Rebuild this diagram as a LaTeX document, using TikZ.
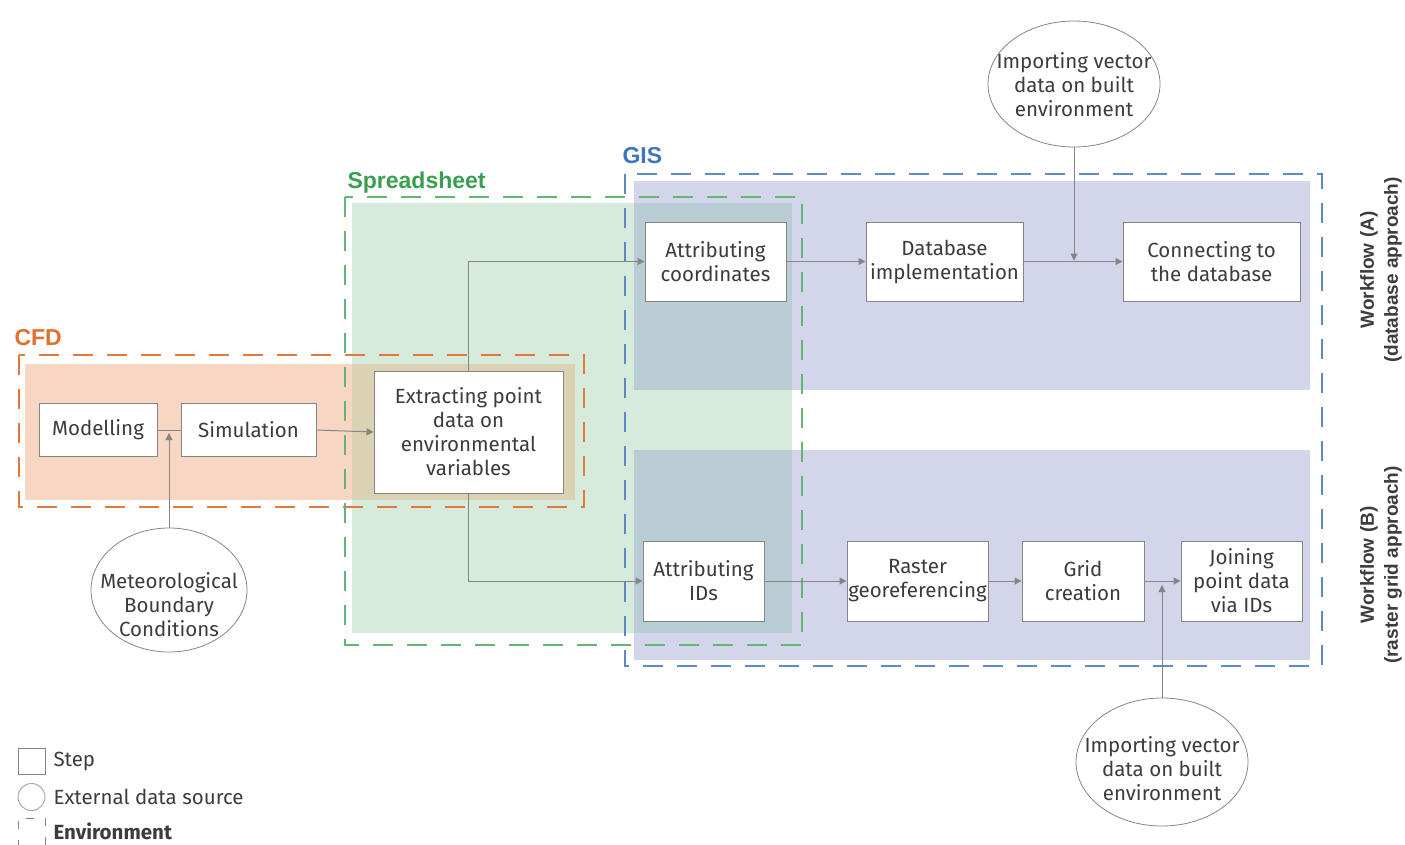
\documentclass[tikz,border=0pt]{standalone}
\usepackage{fontspec}
\setmainfont{Fira Sans}
\newfontfamily\labfont{Liberation Sans}
\usetikzlibrary{arrows.meta,shapes.geometric}
\definecolor{txt}{HTML}{3C3C3C}
\definecolor{lineg}{HTML}{858585}
\definecolor{cfdc}{HTML}{E0712F}
\definecolor{ssc}{HTML}{3A9E50}
\definecolor{gisc}{HTML}{3F74BE}
\definecolor{cfdd}{HTML}{E37A3A}
\definecolor{ssd}{HTML}{62B574}
\definecolor{gisd}{HTML}{6088C8}
\definecolor{greenf}{HTML}{D6EBDC}
\definecolor{bluef}{HTML}{D3D6EA}
\definecolor{orangef}{HTML}{F7D7C3}
\definecolor{tanf}{HTML}{DBD2B3}
\definecolor{tealf}{HTML}{B9CCD3}
\tikzset{
  stepbox/.style={draw=lineg, line width=1pt, fill=white, text=txt, align=center,
    inner sep=0pt, font=\fontsize{20.5}{24}\selectfont},
  srcell/.style={ellipse, draw=lineg, line width=0.8pt, fill=white, inner sep=0pt},
  srctext/.style={text=txt, align=center, inner sep=0pt, font=\fontsize{20.5}{24}\selectfont},
  conn/.style={draw=lineg, line width=1pt},
  arr/.style={conn, -{Triangle[length=7pt,width=7pt]}},
  envbox/.style={line width=1.5pt, dash pattern=on 20pt off 14pt},
  envlab/.style={font=\labfont\bfseries\fontsize{23}{26}\selectfont, anchor=west},
  wflab/.style={font=\labfont\bfseries\fontsize{19}{24}\selectfont, text=txt, align=center, rotate=90},
  legtext/.style={font=\fontsize{20.5}{22}\selectfont, text=txt, anchor=west}
}
\begin{document}
\begin{tikzpicture}[x=1pt,y=-1pt]
\useasboundingbox (0,0) rectangle (1405,844);
% fills
\fill[greenf] (352,203) rectangle (792,633);
\fill[orangef] (25,364) rectangle (575,500);
\fill[bluef] (634,181) rectangle (1310,390);
\fill[bluef] (634,450) rectangle (1310,660);
\fill[tanf] (352,364) rectangle (575,500);
\fill[tealf] (634,203) rectangle (792,390);
\fill[tealf] (634,450) rectangle (792,633);
% environment boxes
\draw[envbox, draw=cfdd] (19,355) rectangle (584,507);
\draw[envbox, draw=ssd] (345,197) rectangle (802,645);
\draw[envbox, draw=gisd] (625,174) rectangle (1322,666);
\node[envlab, text=cfdc] (lcfd) at (11,338) {CFD};
\node[envlab, text=ssc] (lss) at (344,183) {Spreadsheet};
\node[envlab, text=gisc] (lgis) at (619,156) {GIS};
% steps
\node[stepbox, minimum width=118pt, minimum height=53pt] (mod) at (98,430) {Modelling};
\node[stepbox, minimum width=135pt, minimum height=53pt] (sim) at (248.5,430) {Simulation};
\node[stepbox, minimum width=189pt, minimum height=122pt] (ext) at (468.5,432) {Extracting point\\data on\\environmental\\variables};
\node[stepbox, minimum width=141pt, minimum height=79pt] (ac) at (715.5,261.5) {Attributing\\coordinates};
\node[stepbox, minimum width=121pt, minimum height=80pt] (ai) at (703.5,581) {Attributing\\IDs};
\node[stepbox, minimum width=157pt, minimum height=79pt] (db) at (944.5,261.5) {Database\\implementation};
\node[stepbox, minimum width=177pt, minimum height=79pt] (con) at (1211.5,261.5) {Connecting to\\the database};
\node[stepbox, minimum width=141pt, minimum height=80pt] (ras) at (917.5,581) {Raster\\georeferencing};
\node[stepbox, minimum width=122pt, minimum height=80pt] (grid) at (1083,581) {Grid\\creation};
\node[stepbox, minimum width=121pt, minimum height=80pt] (join) at (1241.5,581) {Joining\\point data\\via IDs};
% sources
\node[srcell, minimum width=156pt, minimum height=124pt] (met) at (169,590) {};
\node[srctext] (mett) at (169,605) {Meteorological\\Boundary\\Conditions};
\node[srcell, minimum width=172pt, minimum height=126pt] (imp1) at (1074,84) {};
\node[srctext] (imp1t) at (1074,85) {Importing vector\\data on built\\environment};
\node[srcell, minimum width=172pt, minimum height=128pt] (imp2) at (1162,762) {};
\node[srctext] (imp2t) at (1162,769) {Importing vector\\data on built\\environment};
% connectors
\draw[conn] (mod.east) -- (sim.west);
\draw[arr, shorten >=3pt] (met.north) -- (met.north |- mod.east);
\draw[arr] (sim.east) -- (ext.west);
\draw[arr] (ext.north) |- (ac.west);
\draw[arr] (ext.south) |- (ai.west);
\draw[arr] (ac.east) -- (db.west);
\draw[arr] (db.east) -- (con.west);
\draw[arr, shorten >=1pt] (imp1.south) -- (imp1.south |- db.east);
\draw[arr] (ai.east) -- (ras.west);
\draw[arr] (ras.east) -- (grid.west);
\draw[arr] (grid.east) -- (join.west);
\draw[arr, shorten >=4pt] (imp2.north) -- (imp2.north |- grid.east);
% workflow labels
\node[wflab] (wfa) at (1381,270) {Workflow (A)\\(database approach)};
\node[wflab] (wfb) at (1381,565) {Workflow (B)\\(raster grid approach)};
% legend
\draw[draw=lineg, line width=1pt] (18,748) rectangle (45,774);
\node[legtext] (lstep) at (50,761) {Step};
\draw[draw=lineg!70, line width=1pt] (31.5,797) circle (13.5pt);
\node[legtext] (lext) at (50,797) {External data source};
\draw[draw=lineg, line width=1pt, dash pattern=on 8pt off 11pt] (18,848) -- (18,818) -- (45,818) -- (45,848);
\node[legtext, font=\bfseries\fontsize{20.5}{22}\selectfont] (lenv) at (50,831) {Environment};
\end{tikzpicture}
\end{document}
